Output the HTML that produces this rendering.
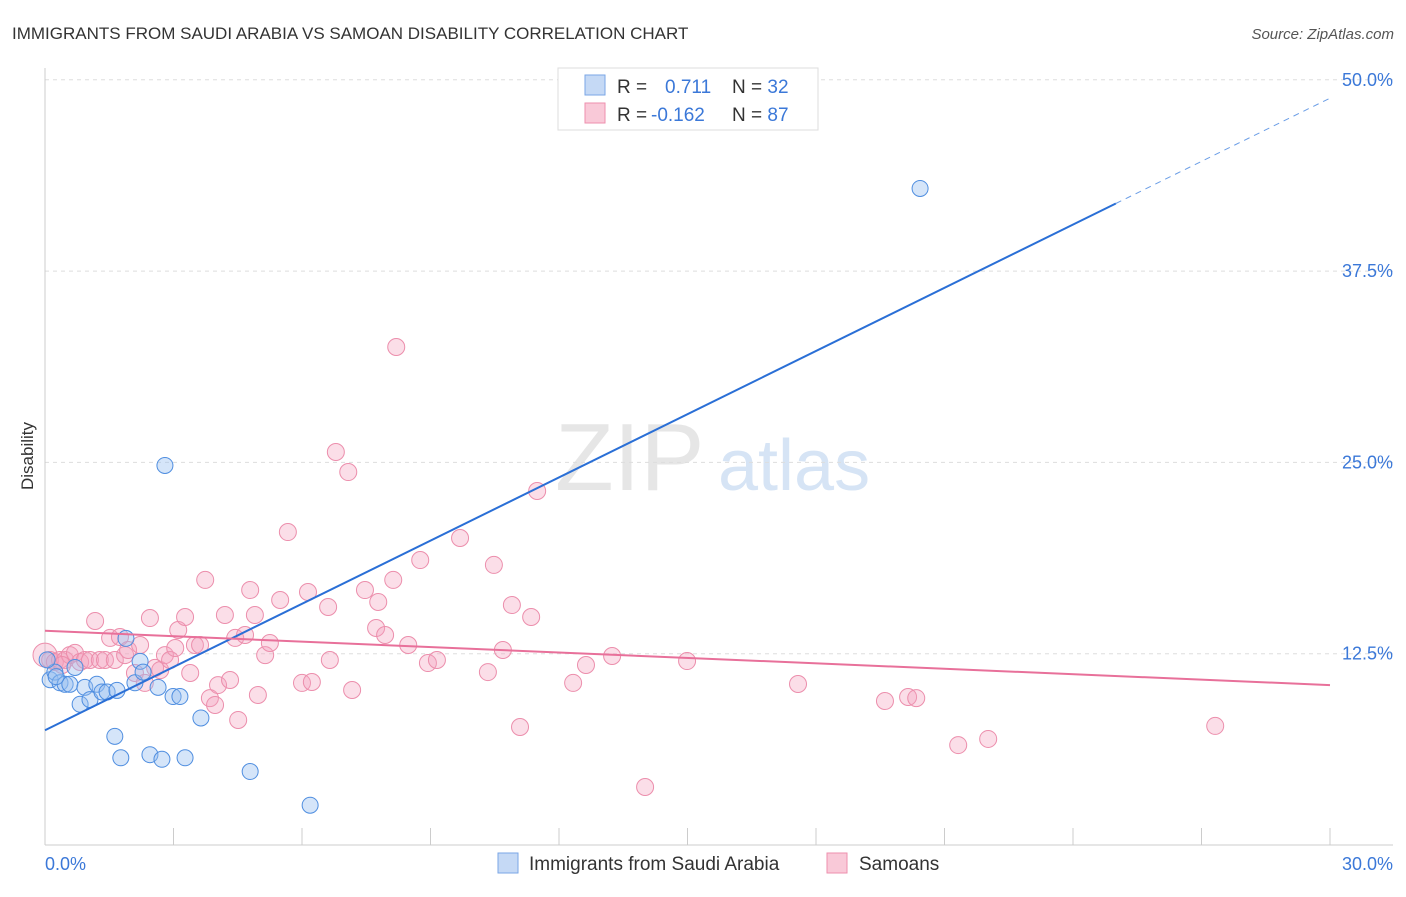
<!DOCTYPE html>
<html><head><meta charset="utf-8"><style>
body{margin:0;background:#fff;font-family:"Liberation Sans",sans-serif;}
svg text{font-family:"Liberation Sans",sans-serif;}
</style></head><body>
<svg id="chart" width="1406" height="892">
<text x="12" y="39" font-size="17" fill="#333">IMMIGRANTS FROM SAUDI ARABIA VS SAMOAN DISABILITY CORRELATION CHART</text>
<text x="1394" y="39" font-size="15" fill="#555" text-anchor="end" font-style="italic">Source: ZipAtlas.com</text>
<text x="33" y="456" font-size="17" fill="#333" transform="rotate(-90 33 456)" text-anchor="middle">Disability</text>
<g><text x="555" y="490" font-size="96" fill="#e6e6e6" font-family="Liberation Serif">ZIP</text><text x="718" y="490" font-size="72" fill="#d6e4f5">atlas</text></g>
<g id="grid"></g><g id="axes"></g><g id="pink"></g><g id="blue"></g><g id="lines"></g>
<g>
<rect x="558" y="68" width="260" height="62" fill="#fff" stroke="#ddd"/>
<rect x="585" y="75" width="20" height="20" fill="#c5d9f5" stroke="#7aa6e6"/>
<rect x="585" y="103" width="20" height="20" fill="#f9c9d8" stroke="#ee8fae"/>
<text x="617" y="93" font-size="19" fill="#333">R = <tspan x="665" fill="#3b78d8">0.711</tspan><tspan x="732" fill="#333">N = </tspan><tspan fill="#3b78d8">32</tspan></text>
<text x="617" y="121" font-size="19" fill="#333">R = <tspan x="651" fill="#3b78d8">-0.162</tspan><tspan x="732" fill="#333">N = </tspan><tspan fill="#3b78d8">87</tspan></text>
</g>
<g>
<rect x="498" y="853" width="20" height="20" fill="#c5d9f5" stroke="#7aa6e6"/>
<text x="529" y="870" font-size="19" fill="#333">Immigrants from Saudi Arabia</text>
<rect x="827" y="853" width="20" height="20" fill="#f9c9d8" stroke="#ee8fae"/>
<text x="859" y="870" font-size="19" fill="#333">Samoans</text>
</g>
</svg>
<script>
const xTicks=[0,30];
const yTicks=[12.5,25,37.5,50];
const blueX=[0.12,0.23,0.35,0.47,0.58,0.70,0.82,0.93,1.05,1.21,1.33,1.45,1.68,1.63,1.77,1.89,2.10,2.22,2.29,2.45,2.64,2.73,2.80,2.99,3.15,3.27,3.64,4.79,6.19,20.43,0.05,0.26];
const blueY=[10.8,11.3,10.6,10.5,10.5,11.6,9.2,10.3,9.5,10.5,10.0,10.0,10.1,7.1,5.7,13.5,10.6,12.0,11.3,5.9,10.3,5.6,24.8,9.7,9.7,5.7,8.3,4.8,2.6,42.9,12.1,11.0];
const pinkPx=[[45,655],[50,660],[55,662],[60,660],[65,660],[70,655],[75,653],[80,662],[85,660],[90,660],[95,621],[100,660],[105,660],[110,638],[115,660],[120,637],[125,655],[128,650],[135,673],[140,645],[145,683],[150,618],[155,668],[160,670],[165,655],[170,660],[175,648],[178,630],[185,617],[190,673],[195,645],[200,645],[205,580],[210,698],[215,705],[218,685],[225,615],[230,680],[235,638],[238,720],[245,635],[250,590],[255,615],[258,695],[265,655],[270,643],[280,600],[288,532],[302,683],[308,592],[312,682],[328,607],[330,660],[336,452],[348,472],[352,690],[365,590],[376,628],[378,602],[385,635],[393,580],[396,347],[408,645],[420,560],[428,663],[437,660],[460,538],[488,672],[494,565],[503,650],[512,605],[520,727],[531,617],[537,491],[573,683],[586,665],[612,656],[645,787],[687,661],[798,684],[885,701],[908,697],[916,698],[958,745],[988,739],[1215,726],[62,665]];
const pinkX=pinkPx.map(p=>+((p[0]-45)*0.02335).toFixed(2));
const pinkY=pinkPx.map(p=>+((845-p[1])*0.06534).toFixed(2));
const blueTrend=[7.5,48.8];   // value at x=0, x=30
const pinkTrend=[14.0,10.45];
const blueSolidEnd=25.0;

const X0=45,X1=1330,Y0=845,YPER=191.3/12.5;
const sx=v=>X0+(v-xTicks[0])/(xTicks[1]-xTicks[0])*(X1-X0);
const sy=v=>Y0-v*YPER;
const NS="http://www.w3.org/2000/svg";
function mk(tag,attrs,parent){const e=document.createElementNS(NS,tag);for(const k in attrs)e.setAttribute(k,attrs[k]);document.getElementById(parent).appendChild(e);return e;}
yTicks.forEach(t=>{
 const l=mk('line',{x1:45,x2:1393,y1:sy(t),y2:sy(t),stroke:'#ddd','stroke-dasharray':'4,4'},'grid');
 
 
 const tx=mk('text',{x:1393,y:sy(t)+6,'font-size':18,fill:'#3b78d8','text-anchor':'end'},'grid');
 tx.textContent=t.toFixed(1)+'%';
 
 
});
mk('line',{x1:45,x2:45,y1:68,y2:845,stroke:'#ccc'},'axes');
mk('line',{x1:45,x2:1393,y1:845,y2:845,stroke:'#ccc'},'axes');
for(let i=0;i<=10;i++){const x=sx(xTicks[0]+i*(xTicks[1]-xTicks[0])/10);const t=mk('line',{x1:x,x2:x,y1:828,y2:845,stroke:'#ccc'},'axes');}
xTicks.forEach((t,i)=>{const tx=mk('text',{x:i?1393:45,y:870,'font-size':18,fill:'#3b78d8','text-anchor':i?'end':'start'},'axes');tx.textContent=t.toFixed(1)+'%';
 
 });
pinkX.forEach((x,i)=>{const c=mk('circle',{cx:sx(x),cy:sy(pinkY[i]),r:i==0?12:8.5,fill:'rgba(244,160,188,0.35)',stroke:'#ec8eac','stroke-width':1},'pink');
 
 });
blueX.forEach((x,i)=>{const c=mk('circle',{cx:sx(x),cy:sy(blueY[i]),r:8,fill:'rgba(150,190,240,0.4)',stroke:'#4f8ee0','stroke-width':1},'blue');
 
 });
const by=v=>blueTrend[0]+(blueTrend[1]-blueTrend[0])*v/30;
const py=v=>pinkTrend[0]+(pinkTrend[1]-pinkTrend[0])*v/30;
let a=mk('line',{x1:sx(0),y1:sy(by(0)),x2:sx(blueSolidEnd),y2:sy(by(blueSolidEnd)),stroke:'#2a6fd6','stroke-width':2},'lines');


a=mk('line',{x1:sx(blueSolidEnd),y1:sy(by(blueSolidEnd)),x2:sx(30),y2:sy(by(30)),stroke:'#6a9de6','stroke-width':1,'stroke-dasharray':'6,5'},'lines');


a=mk('line',{x1:sx(0),y1:sy(py(0)),x2:sx(30),y2:sy(py(30)),stroke:'#e8709a','stroke-width':2},'lines');


</script>
</body></html>
